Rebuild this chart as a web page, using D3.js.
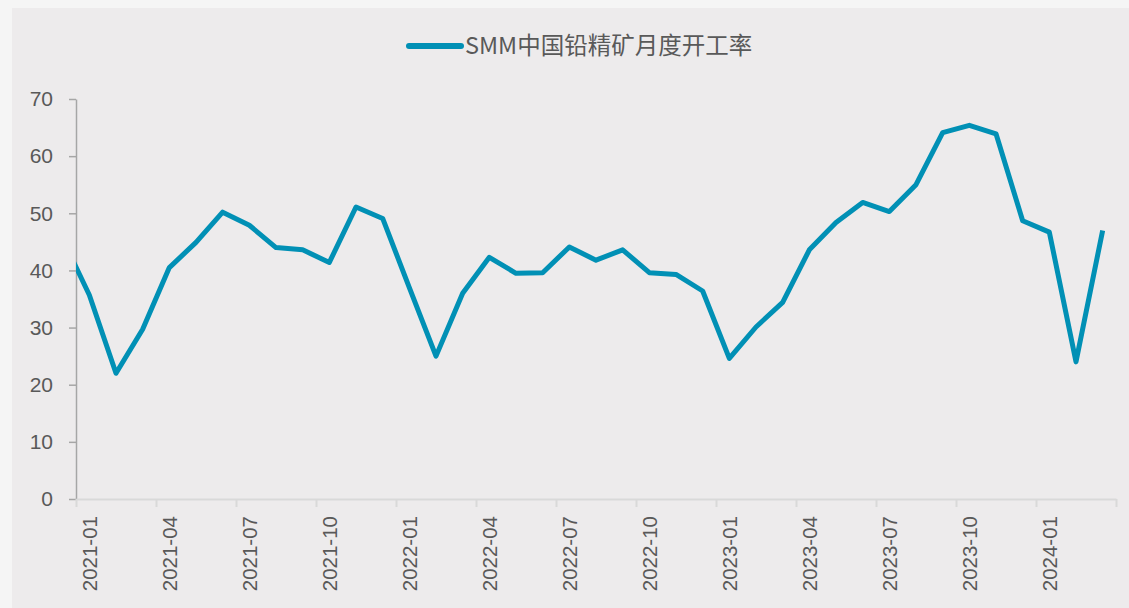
<!DOCTYPE html>
<html>
    <head>
        <meta charset="utf-8">
        <title>SMM中国铅精矿月度开工率</title>
        <style>
            body { margin: 0; background: #f5f5f5; }
        </style>
    </head>
    <body>
        <svg width="1129" height="608" id="lienzo"></svg>

        <script src="https://cdn.jsdelivr.net/npm/d3@7/dist/d3.min.js"></script>
        <script>
            // months (first one only feeds the clipped segment at the left edge)
            const months = [
                "2020-12",
                "2021-01", "2021-02", "2021-03", "2021-04", "2021-05", "2021-06",
                "2021-07", "2021-08", "2021-09", "2021-10", "2021-11", "2021-12",
                "2022-01", "2022-02", "2022-03", "2022-04", "2022-05", "2022-06",
                "2022-07", "2022-08", "2022-09", "2022-10", "2022-11", "2022-12",
                "2023-01", "2023-02", "2023-03", "2023-04", "2023-05", "2023-06",
                "2023-07", "2023-08", "2023-09", "2023-10", "2023-11", "2023-12",
                "2024-01", "2024-02", "2024-03"
            ];
            const rates = [
                45.5,
                35.7, 22.0, 29.7, 40.5, 44.9, 50.2,
                47.9, 44.0, 43.6, 41.4, 51.1, 49.1,
                37.0, 25.0, 36.0, 42.3, 39.5, 39.6,
                44.1, 41.8, 43.6, 39.6, 39.3, 36.4,
                24.6, 30.1, 34.4, 43.6, 48.4, 51.9,
                50.3, 55.0, 64.1, 65.4, 63.9, 48.7,
                46.7, 24.0, 47.0
            ];
            const yTicks = [0, 10, 20, 30, 40, 50, 60, 70];
            const seriesName = "SMM中国铅精矿月度开工率";

            const width = 1129;
            const height = 608;
            const plotLeft = 76, plotRight = 1116, plotTop = 99, plotBottom = 499;
            const lineColor = "#0190b5";
            const textColor = "#595959";

            const svg = d3.select("#lienzo");

            // chart area
            svg.append("rect")
                .attr("x", 12).attr("y", 8)
                .attr("width", width - 12).attr("height", height - 8)
                .attr("fill", "#edebec");

            // index 0 = 2020-12, centre of month i sits in the middle of its band
            const xScale = d3.scaleLinear()
                .domain([0.5, months.length - 0.5])
                .range([plotLeft, plotRight]);

            const yScale = d3.scaleLinear()
                .domain([0, 70])
                .range([plotBottom, plotTop]);

            // y axis
            const yAxis = svg.append("g")
                .attr("transform", "translate(" + plotLeft + ",0)")
                .call(d3.axisLeft(yScale).tickValues(yTicks).tickSize(7).tickPadding(16).tickSizeOuter(0));
            yAxis.select(".domain").attr("stroke", "#a6a6a6").attr("stroke-width", 1.5);
            yAxis.selectAll(".tick line").attr("stroke", "#a6a6a6").attr("stroke-width", 1.5);
            yAxis.selectAll("text")
                .attr("fill", textColor)
                .style("font-family", "'Liberation Sans', Arial, sans-serif")
                .style("font-size", "21px");

            // x axis: tick marks on band edges every 3 months
            const edges = d3.range(0.5, months.length, 3);
            const xAxis = svg.append("g")
                .attr("transform", "translate(0," + plotBottom + ")")
                .call(d3.axisBottom(xScale).tickValues(edges).tickFormat("").tickSize(8).tickSizeOuter(0));
            xAxis.select(".domain").attr("stroke", "#d9d9d9").attr("stroke-width", 2);
            xAxis.selectAll(".tick line").attr("stroke", "#d9d9d9").attr("stroke-width", 2);

            // x labels at band centres
            const labelIdx = d3.range(1, months.length, 3);
            const xLabels = svg.append("g")
                .attr("transform", "translate(0," + plotBottom + ")")
                .call(d3.axisBottom(xScale).tickValues(labelIdx).tickFormat(i => months[i]).tickSize(0));
            xLabels.select(".domain").remove();
            xLabels.selectAll("text")
                .attr("fill", textColor)
                .style("font-family", "'Liberation Sans', Arial, sans-serif")
                .style("font-size", "20.5px")
                .attr("text-anchor", "end")
                .attr("transform", "rotate(-90)")
                .attr("x", -17)
                .attr("y", 0)
                .attr("dy", "0.35em");

            // keep the line inside the plot area
            svg.append("clipPath").attr("id", "plot-clip")
                .append("rect")
                .attr("x", plotLeft).attr("y", 0)
                .attr("width", plotRight - plotLeft).attr("height", height);

            const line = d3.line()
                .x((d, i) => xScale(i))
                .y(d => yScale(d));

            svg.append("path")
                .datum(rates)
                .attr("clip-path", "url(#plot-clip)")
                .attr("d", line)
                .attr("fill", "none")
                .attr("stroke", lineColor)
                .attr("stroke-width", 5)
                .attr("stroke-linejoin", "round");

            // legend
            const legend = svg.append("g").attr("transform", "translate(407,46)");
            legend.append("line")
                .attr("x1", 2).attr("x2", 54)
                .attr("y1", 0).attr("y2", 0)
                .attr("stroke", lineColor)
                .attr("stroke-width", 6)
                .attr("stroke-linecap", "round");
            legend.append("text")
                .attr("x", 58).attr("y", 0)
                .attr("dy", "0.35em")
                .attr("fill", textColor)
                .style("font-family", "'Noto Sans CJK SC', 'Noto Sans', sans-serif")
                .style("font-size", "23.5px")
                .text(seriesName);
        </script>
    </body>
</html>
